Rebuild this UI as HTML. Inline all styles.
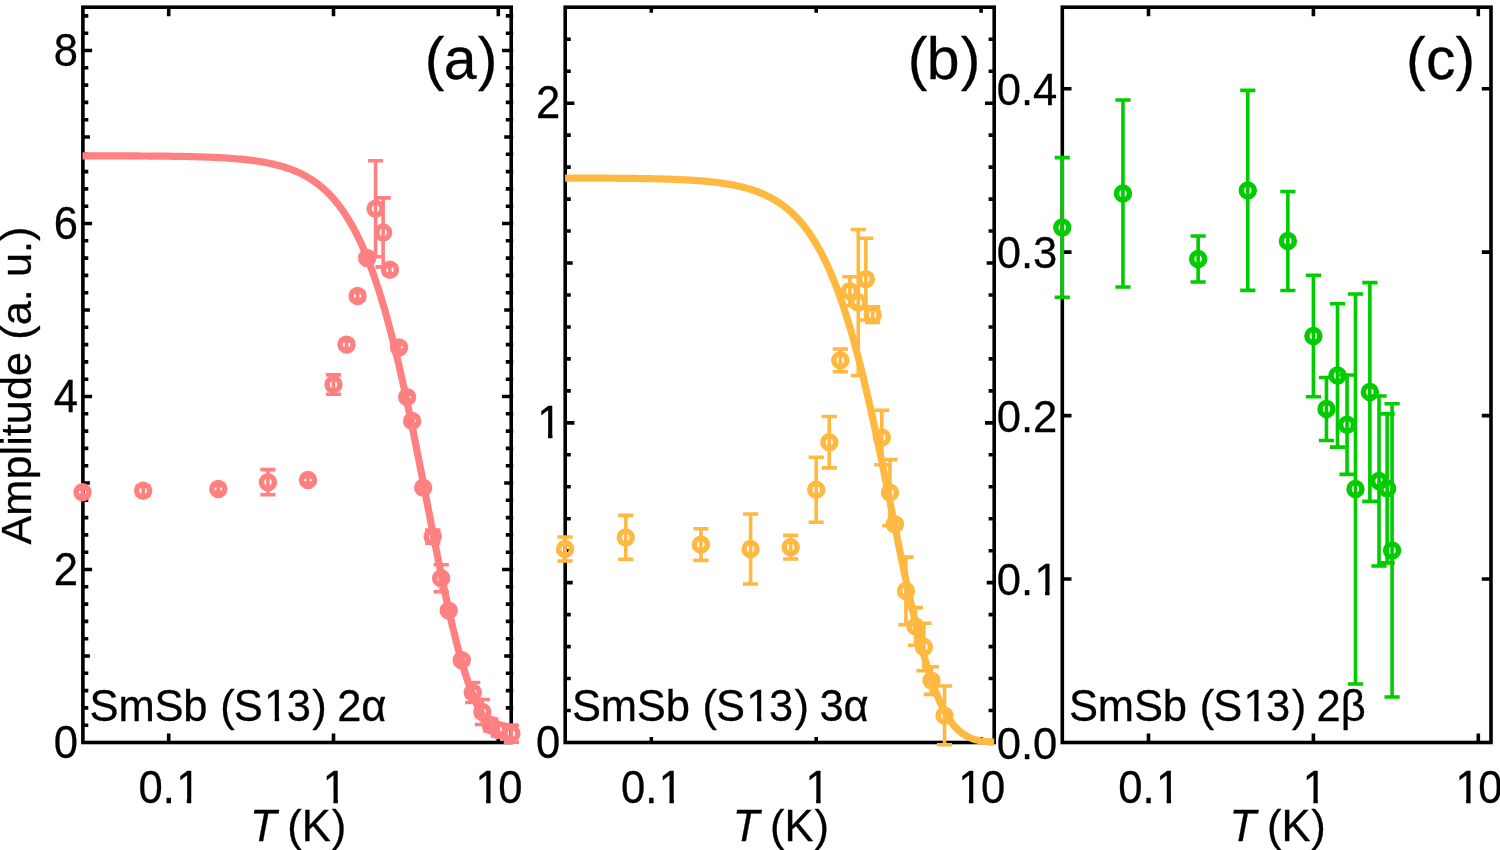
<!DOCTYPE html>
<html lang="en"><head><meta charset="utf-8"><title>SmSb (S13) amplitude vs T</title>
<style>html,body{margin:0;padding:0;background:#fff;}body{width:1500px;height:850px;overflow:hidden;}svg{display:block;}text{font-family:"Liberation Sans",sans-serif;fill:#000;white-space:pre;stroke:#000;stroke-width:0.3px;stroke-linejoin:round;}.i{font-style:italic;}</style></head><body>
<svg width="1500" height="850" viewBox="0 0 1500 850">
<rect width="1500" height="850" fill="#fff"/>
<g id="panel-a">
<path d="M168.7 742.5V733.5M168.7 7.2V16.2M333.5 742.5V733.5M333.5 7.2V16.2M498.3 742.5V733.5M498.3 7.2V16.2M82.9 725.2H88.3M513.2 725.2H505.8M82.9 707.9H88.3M513.2 707.9H505.8M82.9 690.6H88.3M513.2 690.6H505.8M82.9 673.3H88.3M513.2 673.3H505.8M82.9 656H89.9M513.2 656H504.2M82.9 638.7H88.3M513.2 638.7H505.8M82.9 621.4H88.3M513.2 621.4H505.8M82.9 604.1H88.3M513.2 604.1H505.8M82.9 586.8H88.3M513.2 586.8H505.8M82.9 569.5H92.1M513.2 569.5H502M82.9 552.2H88.3M513.2 552.2H505.8M82.9 534.9H88.3M513.2 534.9H505.8M82.9 517.6H88.3M513.2 517.6H505.8M82.9 500.3H88.3M513.2 500.3H505.8M82.9 483H89.9M513.2 483H504.2M82.9 465.7H88.3M513.2 465.7H505.8M82.9 448.4H88.3M513.2 448.4H505.8M82.9 431.1H88.3M513.2 431.1H505.8M82.9 413.8H88.3M513.2 413.8H505.8M82.9 396.5H92.1M513.2 396.5H502M82.9 379.2H88.3M513.2 379.2H505.8M82.9 361.9H88.3M513.2 361.9H505.8M82.9 344.6H88.3M513.2 344.6H505.8M82.9 327.3H88.3M513.2 327.3H505.8M82.9 310H89.9M513.2 310H504.2M82.9 292.7H88.3M513.2 292.7H505.8M82.9 275.4H88.3M513.2 275.4H505.8M82.9 258.1H88.3M513.2 258.1H505.8M82.9 240.8H88.3M513.2 240.8H505.8M82.9 223.5H92.1M513.2 223.5H502M82.9 206.2H88.3M513.2 206.2H505.8M82.9 188.9H88.3M513.2 188.9H505.8M82.9 171.6H88.3M513.2 171.6H505.8M82.9 154.3H88.3M513.2 154.3H505.8M82.9 137H89.9M513.2 137H504.2M82.9 119.7H88.3M513.2 119.7H505.8M82.9 102.4H88.3M513.2 102.4H505.8M82.9 85.1H88.3M513.2 85.1H505.8M82.9 67.8H88.3M513.2 67.8H505.8M82.9 50.5H92.1M513.2 50.5H502M82.9 33.2H88.3M513.2 33.2H505.8M82.9 15.9H88.3M513.2 15.9H505.8" stroke="#000" stroke-width="3.6" fill="none"/>
<rect x="82.9" y="7.2" width="428.3" height="735.3" fill="none" stroke="#000" stroke-width="3.6"/>
<polyline points="82.53,155.81 84.67,155.81 86.82,155.82 88.96,155.82 91.11,155.82 93.25,155.83 95.39,155.83 97.54,155.83 99.68,155.84 101.83,155.84 103.97,155.84 106.11,155.85 108.26,155.85 110.4,155.86 112.55,155.86 114.69,155.87 116.84,155.88 118.98,155.88 121.12,155.89 123.27,155.9 125.41,155.91 127.56,155.91 129.7,155.92 131.84,155.93 133.99,155.94 136.13,155.95 138.28,155.96 140.42,155.98 142.56,155.99 144.71,156 146.85,156.02 149,156.03 151.14,156.05 153.28,156.07 155.43,156.08 157.57,156.1 159.72,156.12 161.86,156.14 164.01,156.17 166.15,156.19 168.29,156.22 170.44,156.25 172.58,156.28 174.73,156.31 176.87,156.34 179.01,156.38 181.16,156.41 183.3,156.45 185.45,156.49 187.59,156.54 189.73,156.59 191.88,156.64 194.02,156.69 196.17,156.75 198.31,156.81 200.45,156.87 202.6,156.94 204.74,157.01 206.89,157.09 209.03,157.17 211.18,157.25 213.32,157.35 215.46,157.44 217.61,157.55 219.75,157.65 221.9,157.77 224.04,157.89 226.18,158.02 228.33,158.16 230.47,158.31 232.62,158.47 234.76,158.63 236.9,158.81 239.05,159 241.19,159.19 243.34,159.41 245.48,159.63 247.63,159.87 249.77,160.12 251.91,160.38 254.06,160.67 256.2,160.97 258.35,161.29 260.49,161.62 262.63,161.98 264.78,162.36 266.92,162.77 269.07,163.2 271.21,163.65 273.35,164.13 275.5,164.64 277.64,165.18 279.79,165.76 281.93,166.37 284.07,167.01 286.22,167.7 288.36,168.42 290.51,169.19 292.65,170.01 294.8,170.87 296.94,171.78 299.08,172.75 301.23,173.78 303.37,174.87 305.52,176.02 307.66,177.23 309.8,178.52 311.95,179.89 314.09,181.33 316.24,182.86 318.38,184.47 320.52,186.18 322.67,187.98 324.81,189.89 326.96,191.91 329.1,194.04 331.24,196.28 333.39,198.66 335.53,201.16 337.68,203.8 339.82,206.58 341.97,209.52 344.11,212.61 346.25,215.86 348.4,219.29 350.54,222.89 352.69,226.68 354.83,230.66 356.97,234.84 359.12,239.22 361.26,243.82 363.41,248.64 365.55,253.69 367.69,258.97 369.84,264.5 371.98,270.27 374.13,276.29 376.27,282.57 378.42,289.11 380.56,295.92 382.7,302.99 384.85,310.34 386.99,317.96 389.14,325.85 391.28,334.01 393.42,342.44 395.57,351.13 397.71,360.09 399.86,369.3 402,378.75 404.14,388.44 406.29,398.36 408.43,408.48 410.58,418.8 412.72,429.3 414.86,439.96 417.01,450.76 419.15,461.68 421.3,472.69 423.44,483.78 425.59,494.9 427.73,506.04 429.87,517.17 432.02,528.25 434.16,539.26 436.31,550.17 438.45,560.95 440.59,571.56 442.74,581.98 444.88,592.18 447.03,602.13 449.17,611.81 451.31,621.19 453.46,630.25 455.6,638.97 457.75,647.33 459.89,655.32 462.03,662.92 464.18,670.12 466.32,676.92 468.47,683.31 470.61,689.3 472.76,694.87 474.9,700.05 477.04,704.83 479.19,709.22 481.33,713.23 483.48,716.89 485.62,720.2 487.76,723.18 489.91,725.85 492.05,728.23 494.2,730.34 496.34,732.19 498.48,733.82 500.63,735.23 502.77,736.45 504.92,737.5 507.06,738.4 509.2,739.15 511.35,739.79" fill="none" stroke="#FF8080" stroke-width="7.2" stroke-linejoin="round"/>
<path d="M82.53 489.2V495.2M74.93 489.2H90.13M74.93 495.2H90.13M143.17 486.3V495.3M135.57 486.3H150.77M135.57 495.3H150.77M218.31 486V492M210.71 486H225.91M210.71 492H225.91M267.92 469.6V494.8M260.32 469.6H275.52M260.32 494.8H275.52M307.97 477V483M300.37 477H315.57M300.37 483H315.57M333.5 374.9V394.3M325.9 374.9H341.1M325.9 394.3H341.1M346.55 340.6V348.6M338.95 340.6H354.15M338.95 348.6H354.15M357.58 292.4V299.4M349.98 292.4H365.18M349.98 299.4H365.18M367.14 256.4V259.4M359.54 256.4H374.74M359.54 259.4H374.74M375.57 160.8V256.8M367.97 160.8H383.17M367.97 256.8H383.17M383.11 197.9V266.9M375.51 197.9H390.71M375.51 266.9H390.71M389.93 265.7V273.7M382.33 265.7H397.53M382.33 273.7H397.53M399.08 344.4V350.4M391.48 344.4H406.68M391.48 350.4H406.68M407.19 394.1V400.1M399.59 394.1H414.79M399.59 400.1H414.79M412.13 417.9V423.9M404.53 417.9H419.73M404.53 423.9H419.73M423.16 485.8V489.8M415.56 485.8H430.76M415.56 489.8H430.76M432.72 530.1V543.1M425.12 530.1H440.32M425.12 543.1H440.32M441.15 564.7V591.7M433.55 564.7H448.75M433.55 591.7H448.75M448.69 608.6V612.6M441.09 608.6H456.29M441.09 612.6H456.29M461.74 656.3V664.3M454.14 656.3H469.34M454.14 664.3H469.34M472.77 682.5V702.5M465.17 682.5H480.37M465.17 702.5H480.37M482.33 699.5V724.5M474.73 699.5H489.93M474.73 724.5H489.93M490.76 719V731M483.16 719H498.36M483.16 731H498.36M498.3 724V736M490.7 724H505.9M490.7 736H505.9M511.35 725.1V742.1M503.75 725.1H518.95M503.75 742.1H518.95" stroke="#FF8080" stroke-width="3.6" fill="none"/>
<g fill="none" stroke="#FF8080" stroke-width="5.5"><circle cx="82.53" cy="492.2" r="6.45"/><circle cx="143.17" cy="490.8" r="6.45"/><circle cx="218.31" cy="489" r="6.45"/><circle cx="267.92" cy="482.2" r="6.45"/><circle cx="307.97" cy="480" r="6.45"/><circle cx="333.5" cy="384.6" r="6.45"/><circle cx="346.55" cy="344.6" r="6.45"/><circle cx="357.58" cy="295.9" r="6.45"/><circle cx="367.14" cy="257.9" r="6.45"/><circle cx="375.57" cy="208.8" r="6.45"/><circle cx="383.11" cy="232.4" r="6.45"/><circle cx="389.93" cy="269.7" r="6.45"/><circle cx="399.08" cy="347.4" r="6.45"/><circle cx="407.19" cy="397.1" r="6.45"/><circle cx="412.13" cy="420.9" r="6.45"/><circle cx="423.16" cy="487.8" r="6.45"/><circle cx="432.72" cy="536.6" r="6.45"/><circle cx="441.15" cy="578.2" r="6.45"/><circle cx="448.69" cy="610.6" r="6.45"/><circle cx="461.74" cy="660.3" r="6.45"/><circle cx="472.77" cy="692.5" r="6.45"/><circle cx="482.33" cy="712" r="6.45"/><circle cx="490.76" cy="725" r="6.45"/><circle cx="498.3" cy="730" r="6.45"/><circle cx="511.35" cy="733.6" r="6.45"/></g>
<text style="font-size:43.6px" x="53.65" y="0" transform="translate(0 757.7) scale(1 1.045)">0</text>
<text style="font-size:43.6px" x="53.65" y="0" transform="translate(0 584.7) scale(1 1.045)">2</text>
<text style="font-size:43.6px" x="53.65" y="0" transform="translate(0 411.7) scale(1 1.045)">4</text>
<text style="font-size:43.6px" x="53.65" y="0" transform="translate(0 238.7) scale(1 1.045)">6</text>
<text style="font-size:43.6px" x="53.65" y="0" transform="translate(0 65.7) scale(1 1.045)">8</text>
<text style="font-size:43.6px" x="138.4 162.64 176.17" y="0" transform="translate(0 803) scale(1 1.045)">0.1</text><rect x="178.49" y="798.6" width="8.34" height="6.6" fill="#fff"/><rect x="191.28" y="798.6" width="8.3" height="6.6" fill="#fff"/>
<text style="font-size:43.6px" x="322.79" y="0" transform="translate(0 803) scale(1 1.045)">1</text><rect x="325.11" y="798.6" width="8.34" height="6.6" fill="#fff"/><rect x="337.9" y="798.6" width="8.3" height="6.6" fill="#fff"/>
<text style="font-size:43.6px" x="475.46 498.3" y="0" transform="translate(0 803) scale(1 1.045)">10</text><rect x="477.78" y="798.6" width="8.34" height="6.6" fill="#fff"/><rect x="490.58" y="798.6" width="8.3" height="6.6" fill="#fff"/>
<text style="font-size:43.6px" x="250.02 275.25 287.36 301.88 331.76" y="0" transform="translate(0 841.2) scale(1 1.015)"><tspan class="i">T</tspan> (K)</text>
<text style="font-size:59px" x="424.69 443.84 477.65" y="0" transform="translate(0 78.8)">(a)</text>
<text style="font-size:43.5px" x="89.62 118.44 154.49 183.35 207.44 220.25 233.81 264.07 286.73 312.31 325.22 337.2 361.25" y="0" transform="translate(0 720.5) scale(1 1.01)">SmSb (S13) 2α</text><rect x="266.38" y="716.22" width="8.33" height="6.48" fill="#fff"/><rect x="279.15" y="716.22" width="8.29" height="6.48" fill="#fff"/>
</g>
<g id="panel-b">
<path d="M651.3 742.5V736.9M651.3 7.2V12.8M816.2 742.5V736.9M816.2 7.2V12.8M981.1 742.5V736.9M981.1 7.2V12.8M565.2 710.53H570.8M994.2 710.53H988.6M565.2 678.57H570.8M994.2 678.57H988.6M565.2 646.61H570.8M994.2 646.61H988.6M565.2 614.64H570.8M994.2 614.64H988.6M565.2 582.67H572.7M994.2 582.67H986.7M565.2 550.71H570.8M994.2 550.71H988.6M565.2 518.75H570.8M994.2 518.75H988.6M565.2 486.78H570.8M994.2 486.78H988.6M565.2 454.81H570.8M994.2 454.81H988.6M565.2 422.85H574.4M994.2 422.85H985M565.2 390.88H570.8M994.2 390.88H988.6M565.2 358.92H570.8M994.2 358.92H988.6M565.2 326.96H570.8M994.2 326.96H988.6M565.2 294.99H570.8M994.2 294.99H988.6M565.2 263.03H572.7M994.2 263.03H986.7M565.2 231.06H570.8M994.2 231.06H988.6M565.2 199.1H570.8M994.2 199.1H988.6M565.2 167.13H570.8M994.2 167.13H988.6M565.2 135.16H570.8M994.2 135.16H988.6M565.2 103.2H574.4M994.2 103.2H985M565.2 71.24H570.8M994.2 71.24H988.6M565.2 39.27H570.8M994.2 39.27H988.6" stroke="#000" stroke-width="3.6" fill="none"/>
<rect x="565.2" y="7.2" width="429" height="735.3" fill="none" stroke="#000" stroke-width="3.6"/>
<polyline points="565.08,178.06 567.22,178.07 569.37,178.07 571.51,178.08 573.66,178.08 575.8,178.09 577.95,178.09 580.1,178.1 582.24,178.1 584.39,178.11 586.53,178.12 588.68,178.12 590.82,178.13 592.97,178.14 595.11,178.15 597.26,178.16 599.4,178.17 601.55,178.18 603.69,178.19 605.84,178.2 607.99,178.21 610.13,178.23 612.28,178.24 614.42,178.25 616.57,178.27 618.71,178.29 620.86,178.31 623,178.32 625.15,178.34 627.29,178.37 629.44,178.39 631.58,178.41 633.73,178.44 635.88,178.46 638.02,178.49 640.17,178.52 642.31,178.56 644.46,178.59 646.6,178.63 648.75,178.67 650.89,178.71 653.04,178.75 655.18,178.8 657.33,178.85 659.47,178.9 661.62,178.96 663.77,179.01 665.91,179.08 668.06,179.14 670.2,179.21 672.35,179.29 674.49,179.37 676.64,179.45 678.78,179.54 680.93,179.64 683.07,179.74 685.22,179.85 687.37,179.96 689.51,180.08 691.66,180.21 693.8,180.35 695.95,180.49 698.09,180.64 700.24,180.81 702.38,180.98 704.53,181.16 706.67,181.36 708.82,181.56 710.96,181.78 713.11,182.02 715.26,182.26 717.4,182.52 719.55,182.8 721.69,183.1 723.84,183.41 725.98,183.74 728.13,184.09 730.27,184.47 732.42,184.86 734.56,185.28 736.71,185.73 738.85,186.2 741,186.7 743.15,187.23 745.29,187.8 747.44,188.39 749.58,189.03 751.73,189.7 753.87,190.41 756.02,191.16 758.16,191.96 760.31,192.81 762.45,193.71 764.6,194.66 766.74,195.66 768.89,196.73 771.04,197.85 773.18,199.05 775.33,200.31 777.47,201.65 779.62,203.06 781.76,204.56 783.91,206.14 786.05,207.82 788.2,209.58 790.34,211.45 792.49,213.43 794.63,215.51 796.78,217.71 798.93,220.04 801.07,222.49 803.22,225.07 805.36,227.8 807.51,230.67 809.65,233.69 811.8,236.88 813.94,240.23 816.09,243.75 818.23,247.46 820.38,251.35 822.53,255.43 824.67,259.72 826.82,264.22 828.96,268.93 831.11,273.86 833.25,279.01 835.4,284.41 837.54,290.04 839.69,295.91 841.83,302.04 843.98,308.41 846.12,315.05 848.27,321.94 850.42,329.09 852.56,336.51 854.71,344.19 856.85,352.12 859,360.32 861.14,368.77 863.29,377.47 865.43,386.41 867.58,395.58 869.72,404.97 871.87,414.58 874.01,424.39 876.16,434.37 878.31,444.53 880.45,454.83 882.6,465.26 884.74,475.8 886.89,486.42 889.03,497.1 891.18,507.81 893.32,518.52 895.47,529.22 897.61,539.86 899.76,550.43 901.9,560.88 904.05,571.2 906.2,581.36 908.34,591.32 910.49,601.06 912.63,610.55 914.78,619.77 916.92,628.69 919.07,637.3 921.21,645.58 923.36,653.51 925.5,661.07 927.65,668.26 929.8,675.06 931.94,681.47 934.09,687.49 936.23,693.12 938.38,698.36 940.52,703.21 942.67,707.68 944.81,711.79 946.96,715.54 949.1,718.94 951.25,722.02 953.39,724.79 955.54,727.27 957.69,729.47 959.83,731.41 961.98,733.12 964.12,734.62 966.27,735.91 968.41,737.03 970.56,737.99 972.7,738.81 974.85,739.49 976.99,740.07 979.14,740.55 981.28,740.95 983.43,741.28 985.58,741.54 987.72,741.76 989.87,741.93 992.01,742.06 994.16,742.17" fill="none" stroke="#FFB840" stroke-width="7.2" stroke-linejoin="round"/>
<path d="M565.08 537V561M557.48 537H572.68M557.48 561H572.68M625.76 515.4V559.4M618.16 515.4H633.36M618.16 559.4H633.36M700.94 528.8V560.4M693.34 528.8H708.54M693.34 560.4H708.54M750.58 514V584M742.98 514H758.18M742.98 584H758.18M790.66 535.4V559M783.06 535.4H798.26M783.06 559H798.26M816.2 457.3V522.3M808.6 457.3H823.8M808.6 522.3H823.8M829.26 416.5V467.9M821.66 416.5H836.86M821.66 467.9H836.86M840.3 349V371.6M832.7 349H847.9M832.7 371.6H847.9M849.86 276.8V305.6M842.26 276.8H857.46M842.26 305.6H857.46M858.29 229.5V375.5M850.69 229.5H865.89M850.69 375.5H865.89M865.84 238.2V320M858.24 238.2H873.44M858.24 320H873.44M872.67 306.9V322.5M865.07 306.9H880.27M865.07 322.5H880.27M881.82 410.3V464.7M874.22 410.3H889.42M874.22 464.7H889.42M889.94 459.6V525.6M882.34 459.6H897.54M882.34 525.6H897.54M894.88 520.3V528.3M887.28 520.3H902.48M887.28 528.3H902.48M905.92 557.1V624.7M898.32 557.1H913.52M898.32 624.7H913.52M915.48 607.6V645.2M907.88 607.6H923.08M907.88 645.2H923.08M923.91 623.2V670.8M916.31 623.2H931.51M916.31 670.8H931.51M931.46 666.8V694.4M923.86 666.8H939.06M923.86 694.4H939.06M944.52 686V744.8M936.92 686H952.12M936.92 744.8H952.12" stroke="#FFB840" stroke-width="3.6" fill="none"/>
<g fill="none" stroke="#FFB840" stroke-width="5.5"><circle cx="565.08" cy="549" r="6.45"/><circle cx="625.76" cy="537.4" r="6.45"/><circle cx="700.94" cy="544.6" r="6.45"/><circle cx="750.58" cy="549" r="6.45"/><circle cx="790.66" cy="547.2" r="6.45"/><circle cx="816.2" cy="489.8" r="6.45"/><circle cx="829.26" cy="442.2" r="6.45"/><circle cx="840.3" cy="360.3" r="6.45"/><circle cx="849.86" cy="291.2" r="6.45"/><circle cx="858.29" cy="302.5" r="6.45"/><circle cx="865.84" cy="279.1" r="6.45"/><circle cx="872.67" cy="314.7" r="6.45"/><circle cx="881.82" cy="437.5" r="6.45"/><circle cx="889.94" cy="492.6" r="6.45"/><circle cx="894.88" cy="524.3" r="6.45"/><circle cx="905.92" cy="590.9" r="6.45"/><circle cx="915.48" cy="626.4" r="6.45"/><circle cx="923.91" cy="647" r="6.45"/><circle cx="931.46" cy="680.6" r="6.45"/><circle cx="944.52" cy="715.4" r="6.45"/></g>
<text style="font-size:43.6px" x="535.95" y="0" transform="translate(0 757.7) scale(1 1.045)">0</text>
<text style="font-size:43.6px" x="537.36" y="0" transform="translate(0 438.05) scale(1 1.045)">1</text><rect x="539.68" y="433.65" width="8.34" height="6.6" fill="#fff"/><rect x="552.48" y="433.65" width="8.3" height="6.6" fill="#fff"/>
<text style="font-size:43.6px" x="535.95" y="0" transform="translate(0 118.4) scale(1 1.045)">2</text>
<text style="font-size:43.6px" x="621 645.24 658.77" y="0" transform="translate(0 803) scale(1 1.045)">0.1</text><rect x="661.09" y="798.6" width="8.34" height="6.6" fill="#fff"/><rect x="673.88" y="798.6" width="8.3" height="6.6" fill="#fff"/>
<text style="font-size:43.6px" x="805.49" y="0" transform="translate(0 803) scale(1 1.045)">1</text><rect x="807.81" y="798.6" width="8.34" height="6.6" fill="#fff"/><rect x="820.6" y="798.6" width="8.3" height="6.6" fill="#fff"/>
<text style="font-size:43.6px" x="958.26 981.1" y="0" transform="translate(0 803) scale(1 1.045)">10</text><rect x="960.58" y="798.6" width="8.34" height="6.6" fill="#fff"/><rect x="973.38" y="798.6" width="8.3" height="6.6" fill="#fff"/>
<text style="font-size:43.6px" x="732.67 757.9 770.01 784.53 814.41" y="0" transform="translate(0 841.2) scale(1 1.015)"><tspan class="i">T</tspan> (K)</text>
<text style="font-size:59px" x="907.69 926.84 960.65" y="0" transform="translate(0 78.8)">(b)</text>
<text style="font-size:43.5px" x="571.92 600.74 636.79 665.65 689.74 702.55 716.11 746.37 769.03 794.61 807.52 819.5 843.55" y="0" transform="translate(0 720.5) scale(1 1.01)">SmSb (S13) 3α</text><rect x="748.68" y="716.22" width="8.33" height="6.48" fill="#fff"/><rect x="761.45" y="716.22" width="8.29" height="6.48" fill="#fff"/>
</g>
<g id="panel-c">
<path d="M1148.5 742.5V733.5M1148.5 7.2V16.2M1313.4 742.5V733.5M1313.4 7.2V16.2M1478.3 742.5V733.5M1478.3 7.2V16.2M1062.3 579.05H1071.5M1491 579.05H1481.8M1062.3 415.6H1071.5M1491 415.6H1481.8M1062.3 252.15H1071.5M1491 252.15H1481.8M1062.3 88.7H1071.5M1491 88.7H1481.8" stroke="#000" stroke-width="3.6" fill="none"/>
<rect x="1062.3" y="7.2" width="428.7" height="735.3" fill="none" stroke="#000" stroke-width="3.6"/>
<path d="M1062.28 157.6V297.2M1054.68 157.6H1069.88M1054.68 297.2H1069.88M1122.96 100V287M1115.36 100H1130.56M1115.36 287H1130.56M1198.14 236V282M1190.54 236H1205.74M1190.54 282H1205.74M1247.78 90.4V290.4M1240.18 90.4H1255.38M1240.18 290.4H1255.38M1287.86 191.5V290.5M1280.26 191.5H1295.46M1280.26 290.5H1295.46M1313.4 275.2V396.8M1305.8 275.2H1321M1305.8 396.8H1321M1326.46 377.5V440.5M1318.86 377.5H1334.06M1318.86 440.5H1334.06M1337.5 303.7V447.1M1329.9 303.7H1345.1M1329.9 447.1H1345.1M1347.06 375V474.4M1339.46 375H1354.66M1339.46 474.4H1354.66M1355.49 294V684M1347.89 294H1363.09M1347.89 684H1363.09M1369.87 282.6V501.4M1362.27 282.6H1377.47M1362.27 501.4H1377.47M1379.02 396V566M1371.42 396H1386.62M1371.42 566H1386.62M1387.14 413.9V562.9M1379.54 413.9H1394.74M1379.54 562.9H1394.74M1392.08 403.8V697M1384.48 403.8H1399.68M1384.48 697H1399.68" stroke="#00CC00" stroke-width="3.6" fill="none"/>
<g fill="none" stroke="#00CC00" stroke-width="5.5"><circle cx="1062.28" cy="227.4" r="6.45"/><circle cx="1122.96" cy="193.5" r="6.45"/><circle cx="1198.14" cy="259" r="6.45"/><circle cx="1247.78" cy="190.4" r="6.45"/><circle cx="1287.86" cy="241" r="6.45"/><circle cx="1313.4" cy="336" r="6.45"/><circle cx="1326.46" cy="409" r="6.45"/><circle cx="1337.5" cy="375.4" r="6.45"/><circle cx="1347.06" cy="424.7" r="6.45"/><circle cx="1355.49" cy="489" r="6.45"/><circle cx="1369.87" cy="392" r="6.45"/><circle cx="1379.02" cy="481" r="6.45"/><circle cx="1387.14" cy="488.4" r="6.45"/><circle cx="1392.08" cy="550.4" r="6.45"/></g>
<text style="font-size:43.6px" x="996.69 1020.94 1033.05" y="0" transform="translate(0 758.5) scale(1 1.035)">0.0</text>
<text style="font-size:43.6px" x="996.69 1020.94 1034.46" y="0" transform="translate(0 595.05) scale(1 1.035)">0.1</text><rect x="1036.78" y="590.68" width="8.34" height="6.57" fill="#fff"/><rect x="1049.58" y="590.68" width="8.3" height="6.57" fill="#fff"/>
<text style="font-size:43.6px" x="996.69 1020.94 1033.05" y="0" transform="translate(0 431.6) scale(1 1.035)">0.2</text>
<text style="font-size:43.6px" x="996.69 1020.94 1033.05" y="0" transform="translate(0 268.15) scale(1 1.035)">0.3</text>
<text style="font-size:43.6px" x="996.69 1020.94 1033.05" y="0" transform="translate(0 104.7) scale(1 1.035)">0.4</text>
<text style="font-size:43.6px" x="1118.2 1142.44 1155.97" y="0" transform="translate(0 803) scale(1 1.045)">0.1</text><rect x="1158.29" y="798.6" width="8.34" height="6.6" fill="#fff"/><rect x="1171.08" y="798.6" width="8.3" height="6.6" fill="#fff"/>
<text style="font-size:43.6px" x="1302.69" y="0" transform="translate(0 803) scale(1 1.045)">1</text><rect x="1305.01" y="798.6" width="8.34" height="6.6" fill="#fff"/><rect x="1317.8" y="798.6" width="8.3" height="6.6" fill="#fff"/>
<text style="font-size:43.6px" x="1455.46 1478.3" y="0" transform="translate(0 803) scale(1 1.045)">10</text><rect x="1457.78" y="798.6" width="8.34" height="6.6" fill="#fff"/><rect x="1470.58" y="798.6" width="8.3" height="6.6" fill="#fff"/>
<text style="font-size:43.6px" x="1229.62 1254.85 1266.96 1281.48 1311.36" y="0" transform="translate(0 841.2) scale(1 1.015)"><tspan class="i">T</tspan> (K)</text>
<text style="font-size:59px" x="1405.91 1425.95 1455.55" y="0" transform="translate(0 78.8)">(c)</text>
<text style="font-size:43.5px" x="1069.02 1097.84 1133.89 1162.75 1186.84 1199.65 1213.21 1243.47 1266.13 1291.71 1304.62 1316.6 1340.65" y="0" transform="translate(0 720.5) scale(1 1.01)">SmSb (S13) 2β</text><rect x="1245.78" y="716.22" width="8.33" height="6.48" fill="#fff"/><rect x="1258.55" y="716.22" width="8.29" height="6.48" fill="#fff"/>
</g>
<text style="font-size:43.2px" x="0.05 28.98 65.07 89.15 98.78 108.42 120.48 144.59 168.7 192.79 204.84 219.29 243.38 255.42 267.49 291.57 303.62" y="0" transform="translate(30.9 544.6) rotate(-90) scale(1 0.975)">Amplitude (a. u.)</text>
</svg></body></html>
